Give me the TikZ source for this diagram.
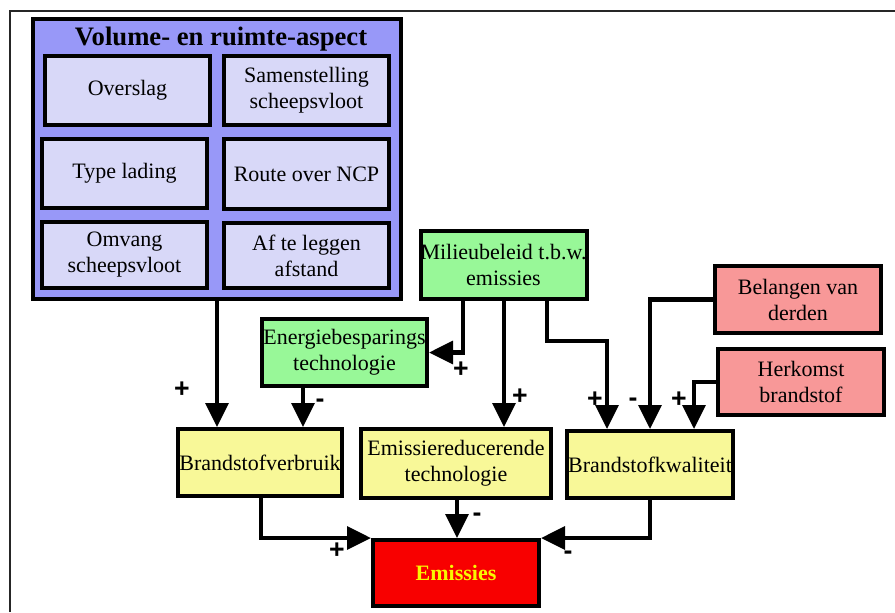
\documentclass[tikz,border=0pt]{standalone}
\usepackage{fontspec}
\setmainfont{Liberation Serif}
\newfontfamily\signfont{Liberation Sans}
\usetikzlibrary{arrows.meta}
\definecolor{volblue}{HTML}{9898F8}
\definecolor{volinner}{HTML}{D8D8F8}
\definecolor{envgreen}{HTML}{98F898}
\definecolor{fuelyellow}{HTML}{F8F898}
\definecolor{thirdpink}{HTML}{F89898}
\definecolor{emred}{HTML}{F80000}
\definecolor{emtext}{HTML}{F8F800}
\begin{document}
\begin{tikzpicture}[x=0.75pt,y=-0.75pt,
  box/.style={draw=black, line width=3pt, inner sep=0pt, align=center,
    font=\fontsize{16.5}{19.5}\selectfont},
  sz/.style 2 args={minimum width=#1*0.75pt, minimum height=#2*0.75pt},
  inbox/.style={box, fill=volinner},
  conn/.style={line width=3.2pt, -{Triangle[length=18pt,width=17pt]}},
  sign/.style={font=\signfont\bfseries\fontsize{20}{20}\selectfont, inner sep=0pt}]
\useasboundingbox (0,0) rectangle (895,612);
% frame
\draw[line width=1.5pt, black!85] (10,612) -- (10,11) -- (895,11);
% volume box
\node[box, fill=volblue, sz={368}{280}] (vol) at (217,159) {};
\node[font=\bfseries\fontsize{20}{22}\selectfont, anchor=base] (voltitle) at (221,45) {Volume- en ruimte-aspect};
\node[inbox, sz={165}{69}] (ovs) at (127.5,90.5) {Overslag};
\node[inbox, sz={165}{69}] (sam) at (306.5,90.5) {Samenstelling\\scheepsvloot};
\node[inbox, sz={165}{69}] (typ) at (124.5,173.5) {Type lading};
\node[inbox, sz={165}{70}] (rou) at (306.5,174) {Route over NCP};
\node[inbox, sz={165}{66}] (omv) at (124.5,255) {Omvang\\scheepsvloot};
\node[inbox, sz={165}{65}] (afs) at (306.5,255.5) {Af te leggen\\afstand};
% other boxes
\node[box, fill=envgreen, sz={165}{68}] (mil) at (503.5,265) {Milieubeleid t.b.w.\\emissies};
\node[box, fill=envgreen, sz={165}{67}] (ene) at (344.5,352.5) {Energiebesparings\\technologie};
\node[box, fill=fuelyellow, sz={164}{67}] (brv) at (260,462.5) {Brandstofverbruik};
\node[box, fill=fuelyellow, sz={190}{69}] (erd) at (456,463.5) {Emissiereducerende\\technologie};
\node[box, fill=fuelyellow, sz={166}{67}] (kwa) at (650,464.5) {Brandstofkwaliteit};
\node[box, fill=thirdpink, sz={166}{67}] (bel) at (798,299.5) {Belangen van\\derden};
\node[box, fill=thirdpink, sz={166}{66}] (her) at (801,382) {Herkomst\\brandstof};
\node[box, fill=emred, text=emtext, font=\bfseries\fontsize{16.5}{19.5}\selectfont, sz={166}{66}] (em) at (456,573) {Emissies};
% x positions of connectors
\coordinate (c1) at (217,0);
\coordinate (c2) at (303,0);
\coordinate (c3) at (463,0);
\coordinate (c4) at (504,0);
\coordinate (c5) at (547,0);
\coordinate (c6) at (607,341);
\coordinate (c7) at (650,0);
\coordinate (c8) at (694,0);
\coordinate (c9) at (261,0);
\coordinate (c10) at (457,0);
\coordinate (c11) at (650,0);
% connectors
\draw[conn] (vol.south -| c1) -- (brv.north -| c1);
\draw[conn] (ene.south -| c2) -- (brv.north -| c2);
\draw[conn] (mil.south -| c3) |- (ene.east);
\draw[conn] (mil.south -| c4) -- (erd.north -| c4);
\draw[conn] (mil.south -| c5) |- (c6) -- (kwa.north -| c6);
\draw[conn] (bel.west) -| (kwa.north -| c7);
\draw[conn] (her.west) -| (kwa.north -| c8);
\draw[conn] (brv.south -| c9) |- (em.north west);
\draw[conn] (erd.south -| c10) -- (em.north -| c10);
\draw[conn] (kwa.south -| c11) |- (em.north east);
% signs
\node[sign] (s1) at (182,390) {+};
\node[sign] (s2) at (320,403) {-};
\node[sign] (s3) at (461,370) {+};
\node[sign] (s4) at (520,397) {+};
\node[sign] (s5) at (595,400) {+};
\node[sign] (s6) at (633,402) {-};
\node[sign] (s7) at (679,400) {+};
\node[sign] (s8) at (477,517) {-};
\node[sign] (s9) at (337,551) {+};
\node[sign] (s10) at (568,555) {-};
\end{tikzpicture}
\end{document}
